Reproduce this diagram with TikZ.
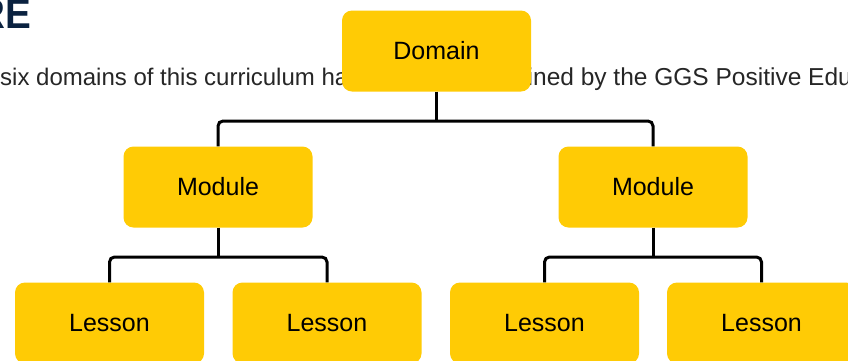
\documentclass[tikz,border=0pt]{standalone}
\usepackage{fontspec}
\setmainfont{Liberation Sans}
\newfontfamily\bodyfont{Liberation Sans}
\newfontfamily\headfont[FakeStretch=0.92]{Liberation Sans}
\definecolor{boxyellow}{HTML}{FFCB05}
\definecolor{headnavy}{HTML}{0A2240}
\definecolor{bodygray}{HTML}{262626}
\begin{document}
\begin{tikzpicture}[x=1pt,y=-1pt,
  box/.style={fill=boxyellow, rounded corners=10pt, minimum width=189pt, minimum height=81pt, inner sep=0pt,
    font=\fontsize{25}{30}\selectfont, text=black},
  conn/.style={draw=black, line width=3pt, rounded corners=5pt},
  bodytext/.style={inner sep=0pt, text=bodygray}]
\useasboundingbox (0,0) rectangle (848,360);
\clip (0,0) rectangle (848,360);
% heading fragment
\node[anchor=base east, inner sep=0pt, text=headnavy, font=\headfont\bfseries\fontsize{42}{46}\selectfont] (head) at (31.5,28.5) {RE};
% body text (partly hidden behind the Domain box)
\node[bodytext, anchor=base west, font=\bodyfont\fontsize{24}{28}\selectfont] (txtl) at (0,85) {six domains of this curriculum ha};
\node[bodytext, anchor=base west, font=\bodyfont\fontsize{24.5}{28}\selectfont] (txtr) at (527.5,85) {ined by the GGS Positive Edu};
% boxes
\node[box] (dom) at (436.5,51) {Domain};
\node[box] (m1) at (218,187) {Module};
\node[box] (m2) at (653,187) {Module};
\node[box] (l1) at (109.5,323) {Lesson};
\node[box] (l2) at (327,323) {Lesson};
\node[box] (l3) at (544.5,323) {Lesson};
\node[box] (l4) at (761.5,323) {Lesson};
% bars
\coordinate (b0) at (436.5,121);
\coordinate (b1) at (218,257);
\coordinate (b2) at (653,257);
\draw[conn] (dom.south) -- (b0);
\draw[conn] (m1.north) -- (m1.north |- b0) -- (m2.north |- b0) -- (m2.north);
\draw[conn] (m1.south) -- (b1);
\draw[conn] (l1.north) -- (l1.north |- b1) -- (l2.north |- b1) -- (l2.north);
\draw[conn] (m2.south) -- (b2);
\draw[conn] (l3.north) -- (l3.north |- b2) -- (l4.north |- b2) -- (l4.north);
\end{tikzpicture}
\end{document}
